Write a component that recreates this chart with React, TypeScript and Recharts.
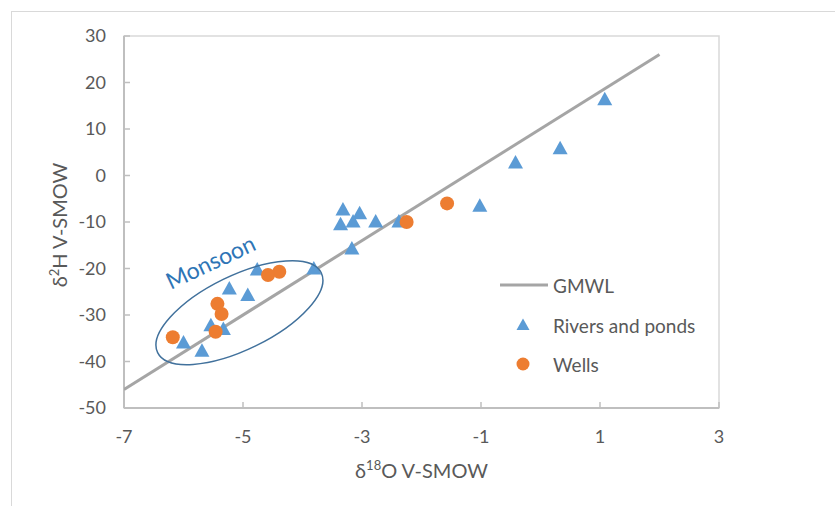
import React from 'react';
import { ScatterChart, Scatter, XAxis, YAxis, ReferenceArea, ReferenceDot, Legend } from 'recharts';

// ---- data ----
const xTicks = [-7, -5, -3, -1, 1, 3];
const yTicks = [-50, -40, -30, -20, -10, 0, 10, 20, 30];

const gmwlX = [-7, 2];
const gmwlY = [-46, 26];

const riversX = [1.08, 0.33, -0.42, -1.02, -3.32, -3.04, -3.36, -3.15, -2.77, -2.38, -3.17, -3.81, -4.76, -5.23, -4.92, -5.54, -5.33, -6.0, -5.69];
const riversY = [16.4, 5.85, 2.8, -6.5, -7.3, -8.1, -10.5, -9.9, -9.9, -9.9, -15.7, -20.0, -20.2, -24.3, -25.7, -32.2, -33.0, -35.9, -37.7];

const wellsX = [-1.57, -2.25, -4.39, -4.58, -5.43, -5.36, -5.46, -6.18];
const wellsY = [-6.0, -10.0, -20.7, -21.4, -27.6, -29.8, -33.6, -34.8];

const monsoonCenter = { x: -5.06, y: -29.5 };
const monsoonLabel = { x: -5.55, y: -18.5, text: 'Monsoon' };

const seriesNames = ['GMWL', 'Rivers and ponds', 'Wells'];

const toPoints = (xs: number[], ys: number[]) => xs.map((x, i) => ({ x, y: ys[i] }));
const gmwlData = toPoints(gmwlX, gmwlY);
const riversData = toPoints(riversX, riversY);
const wellsData = toPoints(wellsX, wellsY);

// ---- styles ----
const FONT = 'Lato, "Open Sans", sans-serif';
const TEXT = '#595959';
const AXIS = '#bfbfbf';
const BLUE = '#5b9bd5';
const ORANGE = '#ed7d31';
const GRAY = '#a5a5a5';

const Triangle = (props: any) => {
  const { cx, cy } = props;
  if (cx == null || cy == null) return <g />;
  return <path d={`M${cx},${cy - 7.5} L${cx + 7.5},${cy + 6} L${cx - 7.5},${cy + 6} Z`} fill={BLUE} />;
};

const Dot = (props: any) => {
  const { cx, cy } = props;
  if (cx == null || cy == null) return <g />;
  return <circle cx={cx} cy={cy} r={7} fill={ORANGE} />;
};

const NoShape = () => <g />;

const XTitle = (props: any) => {
  const vb = props.viewBox || { x: 124, y: 408, width: 595 };
  const cx = vb.x + vb.width / 2;
  const y = 478;
  return (
    <text x={cx} y={y} textAnchor="middle" fill={TEXT} fontSize={20} fontFamily={FONT}>
      δ<tspan dy={-8} fontSize={13}>18</tspan><tspan dy={8}>O V-SMOW</tspan>
    </text>
  );
};

const YTitle = (props: any) => {
  const vb = props.viewBox || { x: 44, y: 36, height: 372 };
  const x = 67;
  const cy = vb.y + vb.height / 2 + 3;
  return (
    <text x={x} y={cy} textAnchor="middle" fill={TEXT} fontSize={20} fontFamily={FONT} transform={`rotate(-90 ${x} ${cy})`}>
      δ<tspan dy={-8} fontSize={13}>2</tspan><tspan dy={8}>H V-SMOW</tspan>
    </text>
  );
};

const renderLegend = (props: any) => {
  const payload = (props.payload && props.payload.length ? props.payload : seriesNames.map((n, i) => ({ value: n, type: ['line', 'triangle', 'circle'][i] })));
  const rowY = [15, 55, 94];
  return (
    <svg width={240} height={110} style={{ display: 'block' }}>
      {payload.map((entry: any, i: number) => {
        const y = rowY[i] ?? 15 + i * 40;
        let marker: any = null;
        if (entry.type === 'line') {
          marker = <line x1={10} x2={58} y1={y} y2={y} stroke={GRAY} strokeWidth={3} />;
        } else if (entry.type === 'triangle') {
          marker = <path d={`M33,${y - 6.5} L39.5,${y + 5} L26.5,${y + 5} Z`} fill={BLUE} />;
        } else {
          marker = <circle cx={33} cy={y} r={6.5} fill={ORANGE} />;
        }
        return (
          <g key={i}>
            {marker}
            <text x={63} y={y} dominantBaseline="central" fill={TEXT} fontSize={19} fontFamily={FONT}>{entry.value}</text>
          </g>
        );
      })}
    </svg>
  );
};

const EllipseShape = (props: any) => {
  const { cx, cy } = props;
  if (cx == null || cy == null) return <g />;
  return (
    <ellipse cx={cx} cy={cy} rx={91} ry={37} fill="none" stroke="#41719c" strokeWidth={1.5} transform={`rotate(-26 ${cx} ${cy})`} />
  );
};

const MonsoonText = (props: any) => {
  const { cx, cy } = props;
  if (cx == null || cy == null) return <g />;
  return (
    <text x={cx} y={cy} textAnchor="middle" dominantBaseline="central" fill="#2e75b6" fontSize={23} fontFamily={FONT} transform={`rotate(-25 ${cx} ${cy})`}>
      {monsoonLabel.text}
    </text>
  );
};

export default function App() {
  return (
    <div style={{ position: 'absolute', left: 0, top: 0, width: 835, height: 506, overflow: 'hidden', background: '#fff' }}>
      <div style={{ position: 'absolute', left: 11, top: 11, width: 840, height: 520, borderLeft: '1.5px solid #d9d9d9', borderTop: '1.5px solid #d9d9d9' }} />
      <ScatterChart width={835} height={506} margin={{ top: 36, right: 116, bottom: 38, left: 44 }} style={{ position: 'absolute', left: 0, top: 0 }}>
        <ReferenceArea x1={-7} x2={3} y1={-50} y2={30} fill="none" stroke="#d9d9d9" strokeWidth={1.5} />
        <XAxis
          type="number"
          dataKey="x"
          domain={[-7, 3]}
          ticks={xTicks}
          allowDataOverflow
          height={60}
          stroke={AXIS}
          axisLine={{ stroke: AXIS, strokeWidth: 2 }}
          tickLine={{ stroke: AXIS, strokeWidth: 1.5 }}
          tickSize={-6}
          tickMargin={28}
          tick={{ fill: TEXT, fontSize: 18, fontFamily: FONT }}
          label={{ content: XTitle }}
        />
        <YAxis
          type="number"
          dataKey="y"
          domain={[-50, 30]}
          ticks={yTicks}
          allowDataOverflow
          width={80}
          stroke={AXIS}
          axisLine={{ stroke: AXIS, strokeWidth: 2 }}
          tickLine={{ stroke: AXIS, strokeWidth: 1.5 }}
          tickSize={-6}
          tickMargin={24}
          tick={{ fill: TEXT, fontSize: 18, fontFamily: FONT }}
          label={{ content: YTitle }}
        />
        <Scatter
          name={seriesNames[0]}
          data={gmwlData}
          line={{ stroke: GRAY, strokeWidth: 3 }}
          lineType="joint"
          shape={NoShape}
          fill={GRAY}
          legendType="line"
          isAnimationActive={false}
        />
        <Scatter name={seriesNames[1]} data={riversData} shape={Triangle} fill={BLUE} legendType="triangle" isAnimationActive={false} />
        <Scatter name={seriesNames[2]} data={wellsData} shape={Dot} fill={ORANGE} legendType="circle" isAnimationActive={false} />
        <ReferenceDot x={monsoonCenter.x} y={monsoonCenter.y} shape={EllipseShape} ifOverflow="visible" />
        <ReferenceDot x={monsoonLabel.x} y={monsoonLabel.y} shape={MonsoonText} ifOverflow="visible" />
        <Legend
          layout="vertical"
          align="center"
          verticalAlign="middle"
          content={renderLegend}
          wrapperStyle={{ left: 490, top: 270, width: 240, height: 110 }}
        />
      </ScatterChart>
    </div>
  );
}
